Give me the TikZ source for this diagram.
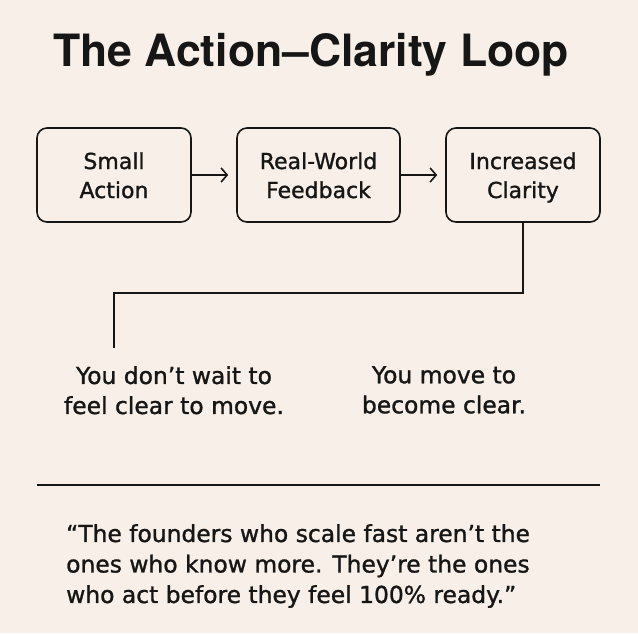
\documentclass[tikz,border=0pt]{standalone}
\usepackage{fontspec}
\usepackage{graphicx}
\setmainfont[FakeBold=1.2]{DejaVu Sans}
\newfontfamily\titlefont{TeX Gyre Heros}
\usetikzlibrary{arrows.meta}
\definecolor{bg}{HTML}{F8F0E8}
\definecolor{ink}{HTML}{161616}
\newcommand\boxstrut{\rule[-6pt]{0pt}{29pt}}
\begin{document}
\begin{tikzpicture}[x=1pt,y=-1pt,
  stepbox/.style={draw=ink,line width=1.6pt,rounded corners=10pt,minimum height=94pt,align=center,inner sep=0pt,
    font=\fontsize{22}{29}\selectfont,text=ink},
  conn/.style={draw=ink,line width=1.6pt},
  arr/.style={conn,-{Straight Barb[length=6pt,width=14pt,line width=1.6pt]},shorten >=8pt},
  body/.style={font=\fontsize{23.4}{30}\selectfont,text=ink,inner sep=0pt,align=center}]
\fill[bg] (0,0) rectangle (638,633);
\useasboundingbox (0,0) rectangle (638,633);
\node[font=\titlefont\bfseries\fontsize{44.5}{50}\selectfont,text=ink,anchor=base,inner sep=0pt] (title) at (311,66) {The Action\scalebox{0.6}[1]{—}Clarity Loop};
\node[stepbox,minimum width=154pt] (b1) at (114,175) {\boxstrut Small\\\boxstrut Action};
\node[stepbox,minimum width=163pt] (b2) at (318.5,175) {\boxstrut Real-World\\\boxstrut Feedback};
\node[stepbox,minimum width=154pt] (b3) at (523,175) {\boxstrut Increased\\\boxstrut Clarity};
\draw[arr] (b1) -- (b2);
\draw[arr] (b2) -- (b3);
\coordinate (turn) at (523,293);
\coordinate (lend) at (114,348);
\draw[conn] (b3.south) -- (turn) -| (lend);
\node[body,anchor=north] (t1) at (174,366) {You don’t wait to\\feel clear to move.};
\node[body,anchor=north] (t2) at (444,366) {You move to\\become clear.};
\coordinate (r1) at (37,485);
\coordinate (r2) at (600,485);
\draw[conn] (r1) -- (r2);
\node[font=\fontsize{23.4}{30.5}\selectfont,text=ink,inner sep=0pt,align=left,anchor=north west] (q) at (66,524)
 {“The founders who scale fast aren’t the\\ones who know more. They’re the ones\\who act before they feel 100\% ready.”};
\end{tikzpicture}
\end{document}
